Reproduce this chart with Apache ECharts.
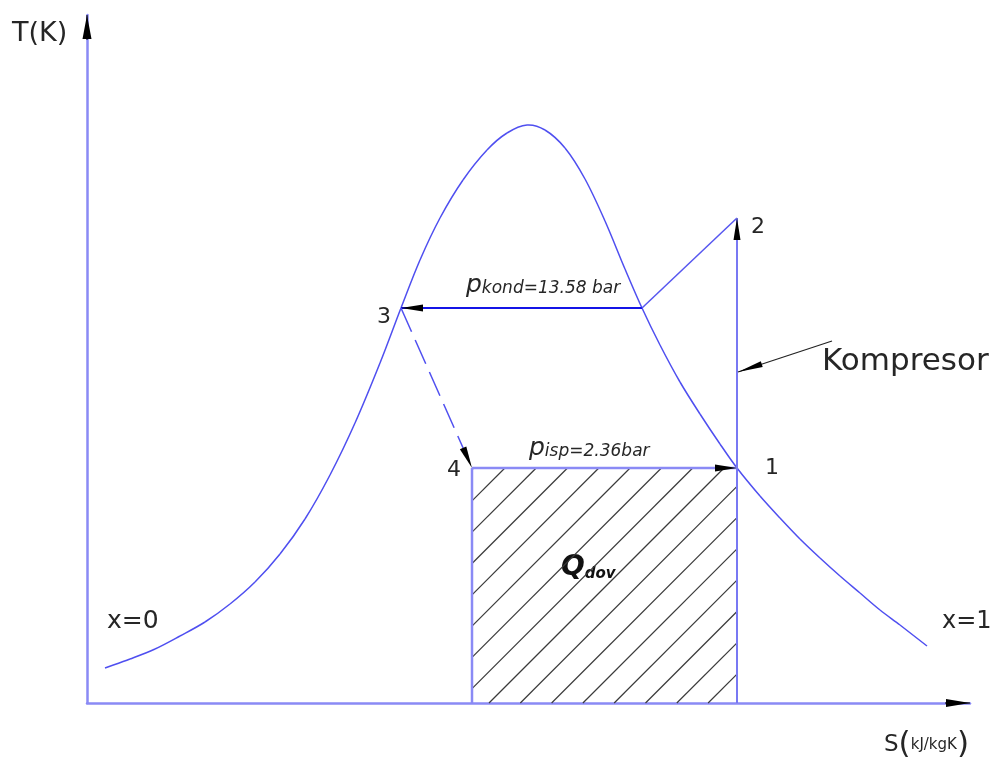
<!DOCTYPE html>
<html>
<head>
<meta charset="utf-8">
<title>T-s dijagram</title>
<script src="https://cdn.jsdelivr.net/npm/echarts@6/dist/echarts.min.js"></script>
<style>
  html, body { margin: 0; padding: 0; background: #fff; }
  #chart { width: 995px; height: 760px; }
</style>
</head>
<body>
<div id="chart"></div>
<script>
// granična krivulja (x=0 lijevo, x=1 desno), shematske jedinice
const sCurve = [0.18, 0.43, 0.68, 0.93, 1.18, 1.43, 1.68, 1.93, 2.18, 2.43, 2.68, 2.93, 3.14, 3.33,
  3.53, 3.76, 4.00, 4.20, 4.40, 4.58, 4.78, 4.98, 5.18, 5.38, 5.55, 5.73, 5.93, 6.13, 6.33, 6.50,
  6.73, 6.93, 7.13, 7.33, 7.53, 7.73, 7.93, 8.13, 8.40]
const TCurve = [0.35, 0.44, 0.54, 0.67, 0.81, 0.99, 1.21, 1.49, 1.84, 2.28, 2.80, 3.40, 3.95, 4.43,
  4.85, 5.23, 5.53, 5.70, 5.78, 5.73, 5.55, 5.24, 4.82, 4.34, 3.95, 3.58, 3.21, 2.89, 2.59, 2.35,
  2.07, 1.85, 1.64, 1.45, 1.27, 1.10, 0.93, 0.78, 0.57]

// tocke ciklusa [s, T]
const P1 = [6.50, 2.35]
const P2 = [6.50, 4.85]
const P3 = [3.14, 3.95]
const P4 = [3.85, 2.35]
const Pk = [5.55, 3.95] // p_kond sijece x=1
const kompresorTail = [7.45, 3.62]
const kompresorTip = [6.51, 3.31]

const sMax = 8.83
const TMax = 6.88

const segments = [
  { from: Pk, to: P3, color: '#1414e6', width: 2, arrow: true },
  { from: Pk, to: P2, color: '#5656f0', width: 1.5 },
  { from: [P1[0], 0], to: P2, color: '#7878f3', width: 2, arrow: true },
  { from: P3, to: P4, color: '#5050f0', width: 1.5, dash: [26, 9], arrow: true },
  { from: P4, to: P1, color: '#8a8af5', width: 2.5, arrow: true },
  { from: [P4[0], 0], to: P4, color: '#8a8af5', width: 2.5 },
  { from: kompresorTail, to: kompresorTip, color: '#222', width: 1.2, arrow: true, len: 25, half: 3 },
  // strelice osi
  { from: [0, TMax - 0.25], to: [0, TMax], color: '#000', width: 1, arrow: true, len: 24, half: 4.5 },
  { from: [sMax - 0.25, 0], to: [sMax, 0], color: '#000', width: 1, arrow: true, len: 24, half: 4 }
]

function renderSegment(params, api) {
  const seg = segments[params.dataIndex]
  const a = api.coord([api.value(0), api.value(1)])
  const b = api.coord([api.value(2), api.value(3)])
  const children = [{
    type: 'line',
    shape: { x1: a[0], y1: a[1], x2: b[0], y2: b[1] },
    style: { stroke: seg.color, lineWidth: seg.width, lineDash: seg.dash || null }
  }]
  if (seg.arrow) {
    const ang = Math.atan2(b[1] - a[1], b[0] - a[0])
    const L = seg.len || 22
    const W = seg.half || 3.5
    const bx = b[0] - L * Math.cos(ang)
    const by = b[1] - L * Math.sin(ang)
    const nx = -Math.sin(ang) * W
    const ny = Math.cos(ang) * W
    children.push({
      type: 'polygon',
      shape: { points: [[b[0], b[1]], [bx + nx, by + ny], [bx - nx, by - ny]] },
      style: { fill: '#000' }
    })
  }
  return { type: 'group', children }
}

// glatki dio krivulje izmedu tocke i i i+1 (tangente po duljini tetiva)
function renderCurve(params, api) {
  const i = params.dataIndex
  const n = sCurve.length
  if (i >= n - 1) return null
  const pt = (k) => {
    const j = Math.max(0, Math.min(n - 1, k))
    return api.coord([sCurve[j], TCurve[j]])
  }
  const dist = (a, b) => Math.hypot(b[0] - a[0], b[1] - a[1]) || 1
  const p0 = pt(i - 1), p1 = pt(i), p2 = pt(i + 1), p3 = pt(i + 2)
  const d0 = i === 0 ? 0 : dist(p0, p1)
  const d1 = dist(p1, p2)
  const d2 = i + 2 > n - 1 ? 0 : dist(p2, p3)
  const k1 = d1 / 3 / (d0 + d1)
  const k2 = d1 / 3 / (d1 + d2)
  return {
    type: 'bezierCurve',
    shape: {
      x1: p1[0], y1: p1[1], x2: p2[0], y2: p2[1],
      cpx1: p1[0] + (p2[0] - p0[0]) * k1, cpy1: p1[1] + (p2[1] - p0[1]) * k1,
      cpx2: p2[0] - (p3[0] - p1[0]) * k2, cpy2: p2[1] - (p3[1] - p1[1]) * k2
    },
    style: { stroke: '#4f4ff0', lineWidth: 1.5, fill: null }
  }
}

function renderHatch(params, api) {
  const tl = api.coord([api.value(0), api.value(2)])
  const br = api.coord([api.value(1), 0])
  const x0 = tl[0], x1 = br[0], yT = tl[1], yB = br[1]
  const step = 31.3
  let c = x0 + yB + 17
  while (c - step > x0 + yT) c -= step
  const lines = []
  for (; c < x1 + yB; c += step) {
    const xa = Math.max(x0, c - yB)
    const xb = Math.min(x1, c - yT)
    if (xb <= xa) continue
    lines.push({
      type: 'line',
      shape: { x1: xa, y1: c - xa, x2: xb, y2: c - xb },
      style: { stroke: '#3a3a3a', lineWidth: 1.2 }
    })
  }
  return { type: 'group', children: lines }
}

const font = 'DejaVu Sans'
const ink = '#262626'

function txt(x, y, text, size) {
  return {
    type: 'text', x, y,
    style: {
      text, fill: ink, font: size + 'px "' + font + '"',
      align: 'left', verticalAlign: 'middle', textAlign: 'left', textVerticalAlign: 'middle'
    }
  }
}

function richTxt(x, y, text, rich) {
  return {
    type: 'text', x, y,
    style: {
      text, rich, fill: ink, fontFamily: font,
      align: 'left', verticalAlign: 'middle', textAlign: 'left', textVerticalAlign: 'middle'
    }
  }
}

const chart = echarts.init(document.getElementById('chart'))

chart.setOption({
  animation: false,
  backgroundColor: '#fff',
  grid: { left: 87, right: 25, top: 15, bottom: 57 },
  xAxis: {
    type: 'value', min: 0, max: sMax,
    axisLine: { show: true, lineStyle: { color: '#8a8af5', width: 2.5 } },
    axisTick: { show: false }, axisLabel: { show: false }, splitLine: { show: false }
  },
  yAxis: {
    type: 'value', min: 0, max: TMax,
    axisLine: { show: true, lineStyle: { color: '#8a8af5', width: 2.5 } },
    axisTick: { show: false }, axisLabel: { show: false }, splitLine: { show: false }
  },
  series: [
    {
      type: 'custom',
      name: 'Qdov',
      renderItem: renderHatch,
      data: [[P4[0], P1[0], P1[1]]],
      encode: { x: [0, 1], y: 2 },
      silent: true,
      z: 1
    },
    {
      type: 'custom',
      name: 'granicna krivulja',
      renderItem: renderCurve,
      data: sCurve.map((s, i) => [s, TCurve[i]]),
      encode: { x: 0, y: 1 },
      silent: true,
      z: 2
    },
    {
      type: 'custom',
      name: 'ciklus',
      renderItem: renderSegment,
      data: segments.map((g) => [g.from[0], g.from[1], g.to[0], g.to[1]]),
      encode: { x: [0, 2], y: [1, 3] },
      silent: true,
      clip: false,
      z: 3
    }
  ],
  graphic: [
    txt(12, 34, 'T(K)', 27),
    txt(822, 362, 'Kompresor', 31),
    txt(107, 621, 'x=0', 25),
    txt(942, 622, 'x=1', 24),
    txt(765, 468, '1', 22),
    txt(751, 227, '2', 22),
    txt(377, 317, '3', 22),
    txt(447, 470, '4', 22),
    richTxt(466, 285, '{p|p}{s|kond=13.58 bar}', {
      p: { fontSize: 25, fontStyle: 'italic', fontFamily: font, fill: ink, color: ink, verticalAlign: 'bottom' },
      s: { fontSize: 17, fontStyle: 'italic', fontFamily: font, fill: ink, color: ink, verticalAlign: 'bottom' }
    }),
    richTxt(529, 448, '{p|p}{s|isp=2.36bar}', {
      p: { fontSize: 25, fontStyle: 'italic', fontFamily: font, fill: ink, color: ink, verticalAlign: 'bottom' },
      s: { fontSize: 17, fontStyle: 'italic', fontFamily: font, fill: ink, color: ink, verticalAlign: 'bottom' }
    }),
    richTxt(561, 568, '{q|Q}{d|dov}', {
      q: { fontSize: 28, fontStyle: 'italic', fontWeight: 'bold', fontFamily: font, fill: '#111', color: '#111', verticalAlign: 'bottom' },
      d: { fontSize: 15, fontStyle: 'italic', fontWeight: 'bold', fontFamily: font, fill: '#111', color: '#111', verticalAlign: 'bottom' }
    }),
    richTxt(884, 745, '{s|S}{b|(}{u|kJ/kgK}{b|)}', {
      s: { fontSize: 23, fontFamily: font, fill: ink, color: ink, verticalAlign: 'middle' },
      b: { fontSize: 31, fontFamily: font, fill: ink, color: ink, verticalAlign: 'middle' },
      u: { fontSize: 15, fontFamily: font, fill: ink, color: ink, verticalAlign: 'middle' }
    })
  ]
})
</script>
</body>
</html>
